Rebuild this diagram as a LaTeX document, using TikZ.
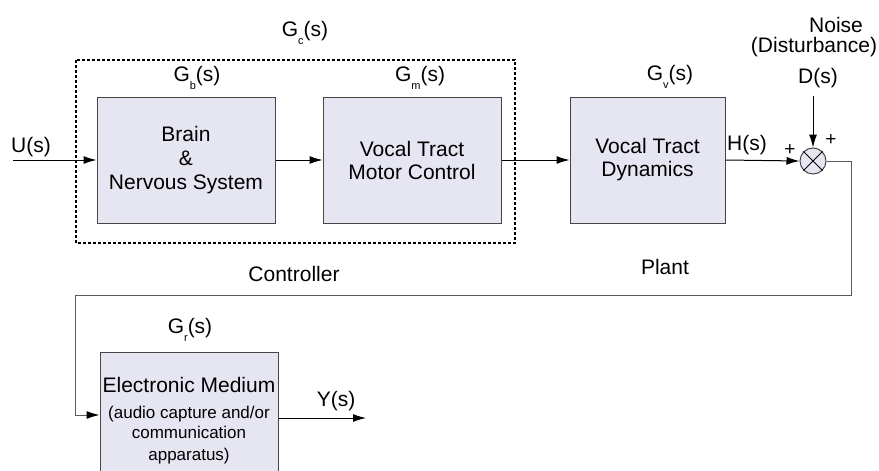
\documentclass[tikz,border=0pt]{standalone}
\usepackage{fontspec}
\setmainfont{Liberation Sans}
\usetikzlibrary{arrows.meta}
\definecolor{boxfill}{RGB}{230,230,242}
\definecolor{boxline}{RGB}{70,70,70}
\definecolor{fbline}{RGB}{90,90,90}
\newcommand{\sbs}[1]{\raisebox{-0.4em}{\fontsize{11}{11}\selectfont #1}}
\begin{document}
\begin{tikzpicture}[x=1pt,y=-1pt,
  blk/.style={draw=boxline, fill=boxfill, line width=1pt, align=center,
    font=\fontsize{21}{24}\selectfont, inner sep=0pt},
  lbl/.style={font=\fontsize{21}{24}\selectfont, inner sep=0pt, align=center},
  pm/.style={font=\fontsize{19}{19}\selectfont, inner sep=0pt},
  arr/.style={-{Latex[length=13pt,width=8pt]}, line width=1pt},
  fb/.style={-{Latex[length=13pt,width=8pt,color=black]}, line width=1pt, draw=fbline}]
\useasboundingbox (0,0) rectangle (879,471);
\clip (0,0) rectangle (879,471);

% controller frame
\draw[line width=1.5pt, dash pattern=on 3pt off 2pt] (76,60) rectangle (515,243);
\node[lbl] (gc) at (305,33) {G\sbs{c}(s)};

% blocks
\node[blk, minimum width=178pt, minimum height=126pt] (brain) at (186,160)
  {Brain\\[0pt]\&\\[0pt]Nervous System};
\node[blk, minimum width=178pt, minimum height=126pt] (motor) at (412,160)
  {Vocal Tract\\[-1pt]Motor Control};
\node[blk, minimum width=155pt, minimum height=126pt] (dyn) at (647.5,160)
  {Vocal Tract\\[-1pt]Dynamics};
\node[blk, minimum width=178pt, minimum height=126pt] (elec) at (189,415) {};
\node[lbl] (electxt) at (189,421)
  {Electronic Medium\\[2pt]
   {\fontsize{17}{20}\selectfont (audio capture and/or}\\[-4pt]
   {\fontsize{17}{20}\selectfont communication}\\[-2pt]
   {\fontsize{17}{20}\selectfont apparatus)}};

% block labels
\node[lbl] (gb) at (197,78) {G\sbs{b}(s)};
\node[lbl] (gm) at (420,78) {G\sbs{m}(s)};
\node[lbl] (gv) at (670,77) {G\sbs{v}(s)};
\node[lbl] (gr) at (190,330) {G\sbs{r}(s)};

% summing junction
\node[circle, draw=boxline, fill=boxfill, line width=1pt, minimum size=26pt, inner sep=0pt] (sum) at (813,161) {};
\draw[line width=0.8pt] (sum.north west) -- (sum.south east);
\draw[line width=0.8pt] (sum.north east) -- (sum.south west);

% texts
\node[lbl] (u) at (31,147) {U(s)};
\node[lbl] (h) at (747,145) {H(s)};
\node[lbl] (y) at (336,401) {Y(s)};
\node[lbl] (d) at (818,78) {D(s)};
\node[lbl] (noise) at (836,25) {Noise};
\node[lbl] (dist) at (814,47) {(Disturbance)};
\node[pm] (p1) at (790,150) {+};
\node[pm] (p2) at (831,140) {+};
\node[lbl] (ctrl) at (294,274) {Controller};
\node[lbl] (plant) at (665,267) {Plant};

% connectors
\coordinate (uin) at (13,160);
\coordinate (din) at (813,96);
\coordinate (c1) at (851,295);
\coordinate (c2) at (75,295);
\coordinate (yout) at (366,418);
\draw[arr] (uin) -- (brain.west);
\draw[arr] (brain.east) -- (motor.west);
\draw[arr] (motor.east) -- (dyn.west);
\draw[arr] (dyn.east) -- (sum.west);
\draw[arr] (din) -- (sum.north);
\draw[fb] (sum.east) -| (c1) -- (c2) |- (elec.west);
\draw[arr] (elec.east |- yout) -- (yout);
\end{tikzpicture}
\end{document}
